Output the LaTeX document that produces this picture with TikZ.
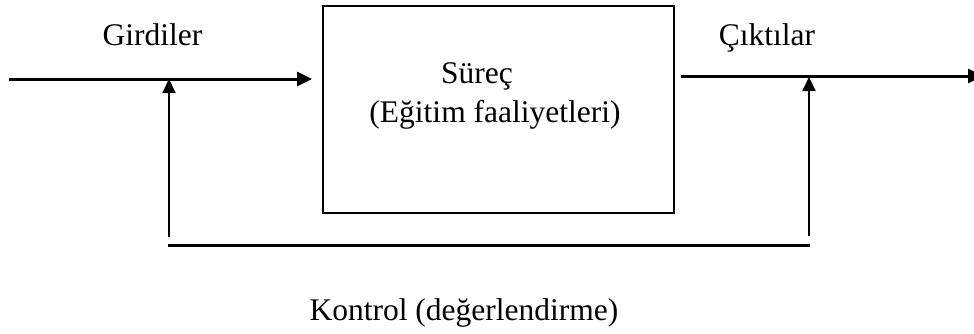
\documentclass[tikz,border=0pt]{standalone}
\usepackage{fontspec}
\setmainfont{Liberation Serif}
\usetikzlibrary{arrows.meta}
\begin{document}
\begin{tikzpicture}[x=1pt,y=-1pt,
  lbl/.style={font=\fontsize{31.5}{37}\selectfont, inner sep=0pt, anchor=base},
  flow/.style={line width=3pt, -{Triangle[length=15pt,width=14pt]}},
  fb/.style={line width=2pt, -{Triangle[length=14pt,width=13pt]}},
  box/.style={draw, line width=2pt, minimum width=351.3pt, minimum height=207.3pt, inner sep=0pt}]
\useasboundingbox (0,0) rectangle (974,333);
\node[box] (proc) at (498.35,109.65) {};
\node[lbl] (sur) at (477,83) {Süreç};
\node[lbl] (egi) at (495,122) {(Eğitim faaliyetleri)};
\node[lbl] (gir) at (152.5,45) {Girdiler};
\node[lbl] (cik) at (767,45) {Çıktılar};
\node[lbl] (kon) at (464,320) {Kontrol (değerlendirme)};
\coordinate (inS) at (9,79);
\coordinate (inE) at (312,79);
\coordinate (outS) at (681,76);
\coordinate (outE) at (983,76);
\coordinate (fbLb) at (169,237);
\coordinate (fbLt) at (169,79);
\coordinate (fbRb) at (809,236);
\coordinate (fbRt) at (809,77);
\coordinate (botL) at (168,245);
\coordinate (botR) at (810,245);
\draw[flow] (inS) -- (inE);
\draw[flow] (outS) -- (outE);
\draw[fb] (fbLb) -- (fbLt);
\draw[fb] (fbRb) -- (fbRt);
\draw[line width=3pt] (botL) -- (botR);
\end{tikzpicture}
\end{document}
